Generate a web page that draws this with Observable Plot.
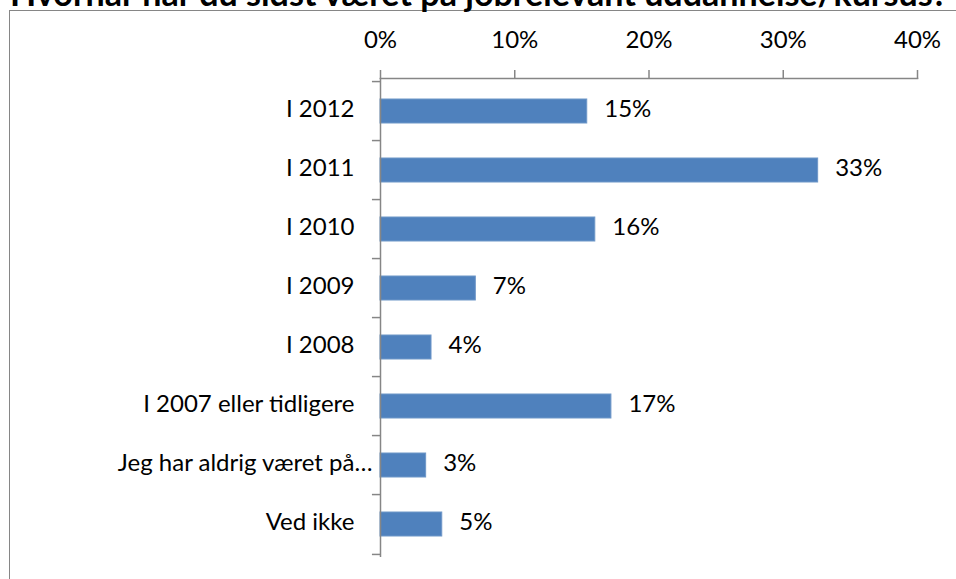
<!DOCTYPE html>
<html>
<head>
<meta charset="utf-8">
<script src="https://cdn.jsdelivr.net/npm/d3@7"></script>
<script src="https://cdn.jsdelivr.net/npm/@observablehq/plot@0.6"></script>
<style>
  html, body { margin: 0; padding: 0; background: #fff; }
  #wrap { position: relative; width: 956px; height: 579px; overflow: hidden; font-family: Lato, "Noto Sans", sans-serif; }
  #frame { position: absolute; left: 9px; top: 10px; width: 960px; height: 600px; border-left: 1.5px solid #868686; border-top: 1.5px solid #868686; box-sizing: border-box; }
  #title { position: absolute; left: 0; top: 0; }
  #chart { position: absolute; left: 0; top: 0; }
</style>
</head>
<body>
<div id="wrap">
  <div id="frame"></div>
  <div id="chart"></div>
  <svg id="title" width="956" height="24"></svg>
</div>
<script>
const titleText = "Hvornår har du sidst været på jobrelevant uddannelse/kursus?";
const categories = ["I 2012", "I 2011", "I 2010", "I 2009", "I 2008", "I 2007 eller tidligere", "Jeg har aldrig været på…", "Ved ikke"];
const values = [0.154, 0.326, 0.160, 0.071, 0.038, 0.172, 0.034, 0.046];
const xTicks = [0, 0.1, 0.2, 0.3, 0.4];

const data = categories.map((c, i) => ({category: c, value: values[i]}));

const W = 956, H = 579;
const mt = 78, mb = 22, ml = 380, mr = 39;
const step = (H - mt - mb) / categories.length;
const fontSize = 24;
const grey = "#868686";
const longLabel = categories[6];
const pct = d3.format(".0%");

const chart = Plot.plot({
  width: W,
  height: H,
  marginTop: mt,
  marginBottom: mb,
  marginLeft: ml,
  marginRight: mr,
  style: {fontFamily: "Lato, 'Noto Sans', sans-serif", fontSize: fontSize + "px", color: "#000", background: "transparent", overflow: "visible"},
  x: {domain: [0, 0.4], ticks: xTicks, tickFormat: pct},
  y: {domain: categories, paddingInner: 0.6, paddingOuter: 0.3},
  marks: [
    Plot.barX(data, {x: "value", y: "category", fill: "#4F81BD", stroke: "#6E97C8", strokeWidth: 1}),
    Plot.text(data, {x: "value", y: "category", text: d => pct(d.value), textAnchor: "start", dx: 17, dy: -2, fill: "#000", fontSize: fontSize}),
    Plot.axisX({anchor: "top", ticks: xTicks, tickFormat: pct, tickSize: 9, tickPadding: 22, stroke: grey, strokeWidth: 1.5, fill: "#000", fontSize: fontSize, label: null}),
    Plot.frame({anchor: "top", stroke: grey, strokeWidth: 1.5}),
    Plot.ruleX([0], {stroke: grey, strokeWidth: 1.5}),
    Plot.ruleY(categories, {y: d => d, x1: -0.006, x2: 0, dy: -step / 2, stroke: grey, strokeWidth: 1.5}),
    Plot.ruleY(categories.slice(-1), {y: d => d, x1: -0.006, x2: 0, dy: step / 2, stroke: grey, strokeWidth: 1.5}),
    Plot.axisY({ticks: categories.filter(c => c !== longLabel), tickSize: 0, tickPadding: 26, dy: -2, fill: "#000", fontSize: fontSize, label: null}),
    Plot.axisY({ticks: [longLabel], tickSize: 0, tickPadding: 8, dy: -2, fill: "#000", fontSize: fontSize, label: null})
  ]
});
document.getElementById("chart").appendChild(chart);

// title, bold, clipped at the top like the reference
const tsvg = d3.select("#title");
const t = tsvg.append("text")
  .attr("x", 10).attr("y", 6)
  .attr("font-family", "Lato, 'Noto Sans', sans-serif")
  .attr("font-weight", "bold")
  .attr("font-size", 27)
  .attr("fill", "#000")
  .text(titleText);
const wNow = t.node().getComputedTextLength();
t.attr("font-size", 27 * 938 / wNow);
</script>
</body>
</html>
